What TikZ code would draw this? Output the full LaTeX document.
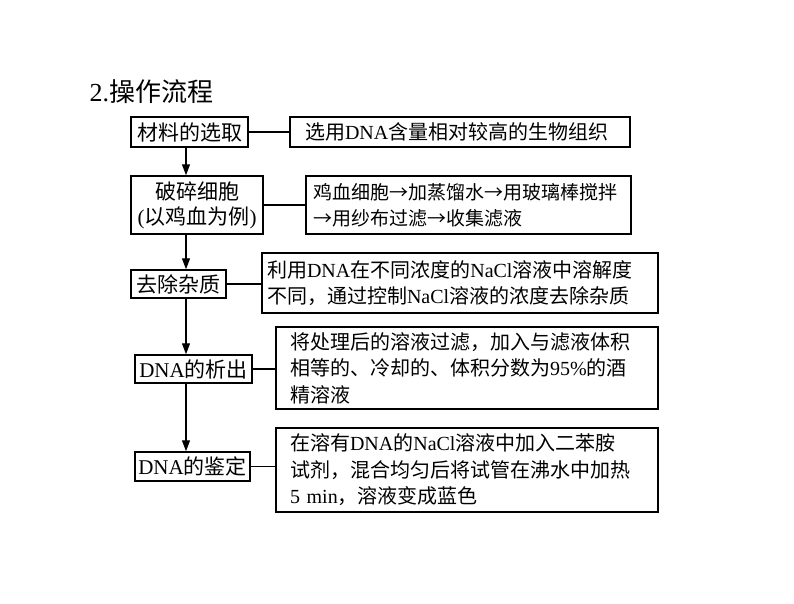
\documentclass[tikz,border=0pt]{standalone}
\usepackage{fontspec}
\setmainfont{Liberation Serif}
\newfontfamily\cjk{Noto Sans CJK SC}
\newcommand\zh[1]{{\cjk #1}}
\usetikzlibrary{arrows.meta}
\begin{document}
\begin{tikzpicture}[x=1pt,y=-1pt,
  lbox/.style={draw, line width=1.5pt, inner sep=0pt, align=center,
    font=\fontsize{21}{25}\selectfont},
  rbox/.style={draw, line width=1.5pt, inner ysep=0pt, align=left,
    font=\fontsize{20}{26.5}\selectfont},
  link/.style={line width=1.6pt},
  flow/.style={line width=1.2pt, -{Triangle[length=11pt,width=8pt]}}]
\useasboundingbox (0,0) rectangle (794,603);
\node[anchor=base west, font=\fontsize{26}{30}\selectfont] (title) at (86,101) {2.\zh{操作流程}};

\node[lbox, minimum width=117pt, minimum height=30pt] (L1) at (189.5,132) {\zh{材料的选取}};
\node[lbox, minimum width=132pt, minimum height=58pt] (L2) at (197,205) {\zh{破碎细胞}\\(\zh{以鸡血为例})};
\node[lbox, minimum width=95pt, minimum height=28pt] (L3) at (178.5,284) {\zh{去除杂质}};
\node[lbox, minimum width=117pt, minimum height=28pt] (L4) at (193.5,369) {DNA\zh{的析出}};
\node[lbox, minimum width=115pt, minimum height=29pt] (L5) at (192.5,466.5) {DNA\zh{的鉴定}};

\node[rbox, inner xsep=15pt, text width=310pt, minimum height=30pt] (R1) at (460,132)
  {\zh{选用}DNA\zh{含量相对较高的生物组织}};
\node[rbox, inner xsep=7pt, text width=311pt, minimum height=58pt,
  font=\fontsize{19}{26}\selectfont] (R2) at (468.5,205)
  {\zh{鸡血细胞→加蒸馏水→用玻璃棒搅拌}\\\zh{→用纱布过滤→收集滤液}};
\node[rbox, inner xsep=5pt, text width=386pt, minimum height=60pt] (R3) at (460,283)
  {\zh{利用}DNA\zh{在不同浓度的}NaCl\zh{溶液中溶解度}\\\zh{不同，通过控制}NaCl\zh{溶液的浓度去除杂质}};
\node[rbox, inner xsep=14pt, text width=354pt, minimum height=82pt] (R4) at (467,368)
  {\zh{将处理后的溶液过滤，加入与滤液体积}\\\zh{相等的、冷却的、体积分数为}95\%\zh{的酒}\\\zh{精溶液}};
\node[rbox, inner xsep=14pt, text width=354pt, minimum height=84pt] (R5) at (467,470)
  {\zh{在溶有}DNA\zh{的}NaCl\zh{溶液中加入二苯胺}\\\zh{试剂，混合均匀后将试管在沸水中加热}\\5 min\zh{，溶液变成蓝色}};

\draw[link] (L1.east) -- (L1.east -| R1.west);
\draw[link] (L2.east) -- (L2.east -| R2.west);
\draw[link] (L3.east) -- (L3.east -| R3.west);
\draw[link] (L4.east) -- (L4.east -| R4.west);
\draw[link] (L5.east) -- (L5.east -| R5.west);

\coordinate (ax) at (186,0);
\draw[flow] (L1.south -| ax) -- (L2.north -| ax);
\draw[flow] (L2.south -| ax) -- (L3.north -| ax);
\draw[flow] (L3.south -| ax) -- (L4.north -| ax);
\draw[flow] (L4.south -| ax) -- (L5.north -| ax);
\end{tikzpicture}
\end{document}
